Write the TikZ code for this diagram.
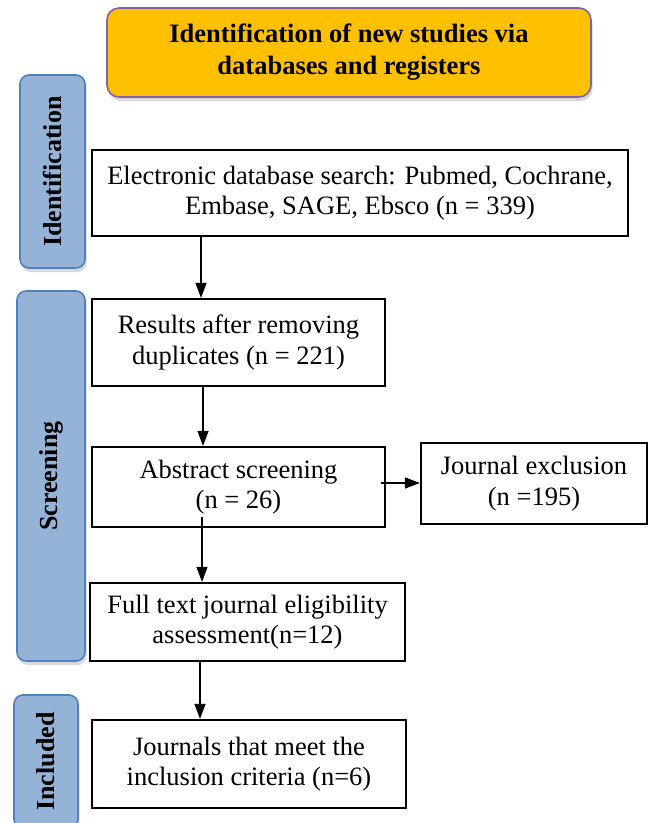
\documentclass[tikz,border=0pt]{standalone}
\usepackage{fontspec}
\setmainfont{Liberation Serif}
\usetikzlibrary{arrows.meta,shadows}
\definecolor{gold}{HTML}{FFC000}
\definecolor{tabfill}{HTML}{95B3D7}
\definecolor{tabdraw}{HTML}{4F81BD}
\definecolor{purp}{HTML}{8064A2}
\begin{document}
\begin{tikzpicture}[x=1pt,y=-1pt,
  txt/.style={font=\fontsize{26.5}{30.5}\selectfont},
  flowbox/.style={draw=black, line width=2.2pt, inner sep=0pt, align=center, txt},
  tabbox/.style={draw=tabdraw, fill=tabfill, line width=1.6pt, rounded corners=9pt, inner sep=0pt,
    rotate=90, font=\fontsize{26}{30}\selectfont\bfseries,
    drop shadow={opacity=0.3, shadow xshift=1.5pt, shadow yshift=-4pt}},
  titlebox/.style={draw=purp, fill=gold, line width=1.6pt, rounded corners=12pt, inner sep=0pt,
    align=center, font=\fontsize{26.5}{32}\selectfont\bfseries,
    drop shadow={opacity=0.3, shadow xshift=1.5pt, shadow yshift=-4pt}},
  arr/.style={line width=1.1pt, -{Triangle[length=15pt,width=11pt]}}
]
\useasboundingbox (0,0) rectangle (654,823);

% title
\node[titlebox, minimum width=484, minimum height=89] (title) at (349,52.5)
  {Identification of new studies via\\databases and registers};

% side tabs
\node[tabbox, minimum width=193, minimum height=65] (tabid) at (52.5,171.5) {Identification};
\node[tabbox, minimum width=370, minimum height=68] (tabsc) at (51,476) {Screening};
\node[tabbox, minimum width=133, minimum height=64] (tabin) at (46,761.5) {Included};

% flow boxes
\node[flowbox, minimum width=536, minimum height=86] (b1) at (360,193)
  {Electronic database search: Pubmed, Cochrane,\\Embase, SAGE, Ebsco (n = 339)};
\node[flowbox, minimum width=293, minimum height=87] (b2) at (238.5,342.5)
  {Results after removing\\duplicates (n = 221)};
\node[flowbox, minimum width=293, minimum height=80] (b3) at (238.5,487)
  {Abstract screening\\(n = 26)};
\node[flowbox, minimum width=226, minimum height=81] (b4) at (534,483.5)
  {Journal exclusion\\(n =195)};
\node[flowbox, minimum width=315, minimum height=78] (b5) at (247.5,622)
  {Full text journal eligibility\\assessment(n=12)};
\node[flowbox, minimum width=314, minimum height=88] (b6) at (249,764)
  {Journals that meet the\\inclusion criteria (n=6)};

% connectors
\draw[arr] (b1.south -| 201,0) -- (b2.north -| 201,0);
\draw[arr] (b2.south -| 203,0) -- (b3.north -| 203,0);
\coordinate (c34) at (381,483);
\draw[arr] (c34) -- (c34 -| b4.west);
\coordinate (c35) at (202,517);
\draw[arr] (c35) -- (c35 |- b5.north);
\draw[arr] (b5.south -| 200,0) -- (b6.north -| 200,0);
\end{tikzpicture}
\end{document}
